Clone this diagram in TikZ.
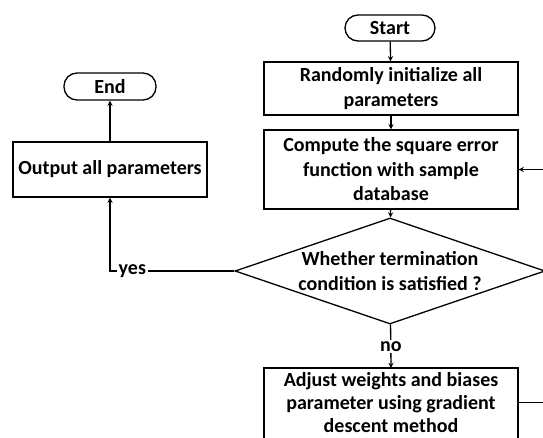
\documentclass[tikz,border=0pt]{standalone}
\usepackage{fontspec}
\setmainfont{Carlito}
\usetikzlibrary{shapes.geometric}

\begin{document}
\begin{tikzpicture}[x=1pt, y=-1pt, >=stealth, line width=1.3pt,
    txt/.style={font=\bfseries\fontsize{20}{24.5}\selectfont, align=center},
    box/.style={txt, draw, rectangle, inner sep=0pt},
    term/.style={txt, draw, rectangle, rounded corners=13pt, inner sep=0pt},
    lbl/.style={txt, fill=white, inner sep=1.5pt}]
        \clip (0,0) rectangle (543,437);
        \node[term, minimum width=90pt, minimum height=26pt] (start) at (390,28) {Start};
        \node[box, minimum width=254pt, minimum height=53pt] (init) at (391,88.5) {Randomly initialize all\\parameters};
        \node[box, minimum width=254pt, minimum height=79pt] (comp) at (391,169.5) {Compute the square error\\function with sample\\database};
        \node[draw, diamond, minimum width=310pt, minimum height=106pt, inner sep=0pt] (cond) at (390,271) {};
        \node[txt] (condtxt) at (cond.center) {Whether termination\\condition is satisfied ?};
        % bottom box runs past the lower edge
        \coordinate (adjtop) at (391,368);
        \draw ([xshift=-127pt]adjtop) rectangle ([xshift=127pt, yshift=-90pt]adjtop);
        \node[txt, font=\bfseries\fontsize{20}{23}\selectfont] (adj) at (391,402.5) {Adjust weights and biases\\parameter using gradient\\descent method};
        \node[box, minimum width=194pt, minimum height=55pt] (out) at (110,169.5) {Output all parameters};
        \node[term, minimum width=92pt, minimum height=27pt] (end) at (110,86.5) {End};
        \draw[->] (start) -- (init);
        \draw[->] (init) -- (comp);
        \draw[->] (comp) -- (cond);
        \draw[->] (cond) -- node[lbl] (no) {no} (adjtop);
        \draw[->] ([xshift=127pt]adjtop |- adj.east) -- ++(32,0) |- (comp.east);
        \draw[->] (cond.west) -| node[lbl, pos=0.41] (yes) {yes} (out.south);
        \draw[->] (out) -- (end);
\end{tikzpicture}
\end{document}
